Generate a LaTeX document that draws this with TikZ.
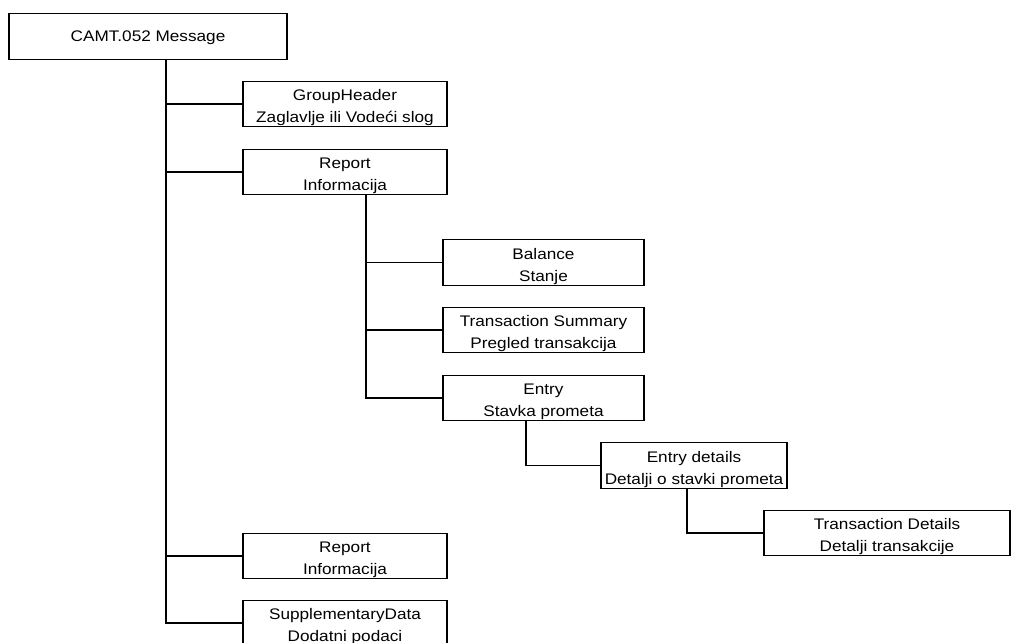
\documentclass[tikz,border=0pt]{standalone}
\usepackage{fontspec}
\setmainfont{Liberation Sans}
\newfontfamily\boxfont[FakeStretch=1.12]{Liberation Sans}
\usetikzlibrary{calc, positioning}
% two lines of a box, lowered a little as in the original
\newcommand{\twoline}[2]{\rule{0pt}{14.6pt}#1\\#2\rule[-3pt]{0pt}{3pt}}

\begin{document}
\begin{tikzpicture}[x=0.75pt,y=-0.75pt,
  box/.style={draw, line width=0.8pt, align=center, inner sep=0pt,
    minimum height=34pt, font=\fontsize{11.5}{16.5}\boxfont},
  wire/.style={line width=0.8pt}]
\useasboundingbox (0,0) rectangle (1012,642);

% tree levels
\node[box, minimum width=208.5pt, text height=8.2pt, text depth=0pt] (msg) at (148,36.5) {CAMT.052 Message};
\node[box, minimum width=153pt] (grp) at (345,104) {\twoline{GroupHeader}{Zaglavlje ili Vodeći slog}};
\node[box, minimum width=153pt] (rpt) at (345,172) {\twoline{Report}{Informacija}};
\node[box, minimum width=150.75pt] (bal) at (543.5,262.5) {\twoline{Balance}{Stanje}};
\node[box, minimum width=150.75pt] (sum) at (543.5,330) {\twoline{Transaction Summary}{Pregled transakcija}};
\node[box, minimum width=150.75pt] (ntry) at (543.5,398) {\twoline{Entry}{Stavka prometa}};
\node[box, minimum width=139.5pt] (ntrydet) at (694,465.5) {\twoline{Entry details}{Detalji o stavki prometa}};
\node[box, minimum width=184.5pt] (txdet) at (887,533) {\twoline{Transaction Details}{Detalji transakcije}};
\node[box, minimum width=153pt] (rptb) at (345,556) {\twoline{Report}{Informacija}};
\node[box, minimum width=153pt] (supp) at (345,623) {\twoline{SupplementaryData}{Dodatni podaci}};

% stems
\coordinate (t0) at (166,0);
\coordinate (t1) at (366,0);
\coordinate (t2) at (526,0);
\coordinate (t3) at (687,0);

\draw[wire] (msg.south -| t0) |- (supp.west);
\draw[wire] (grp.west) -- (grp.west -| t0);
\draw[wire] (rpt.west) -- (rpt.west -| t0);
\draw[wire] (rptb.west) -- (rptb.west -| t0);

\draw[wire] (rpt.south -| t1) |- (ntry.west);
\draw[wire] (bal.west) -- (bal.west -| t1);
\draw[wire] (sum.west) -- (sum.west -| t1);

\draw[wire] (ntry.south -| t2) |- (ntrydet.west);
\draw[wire] (ntrydet.south -| t3) |- (txdet.west);
\end{tikzpicture}
\end{document}
